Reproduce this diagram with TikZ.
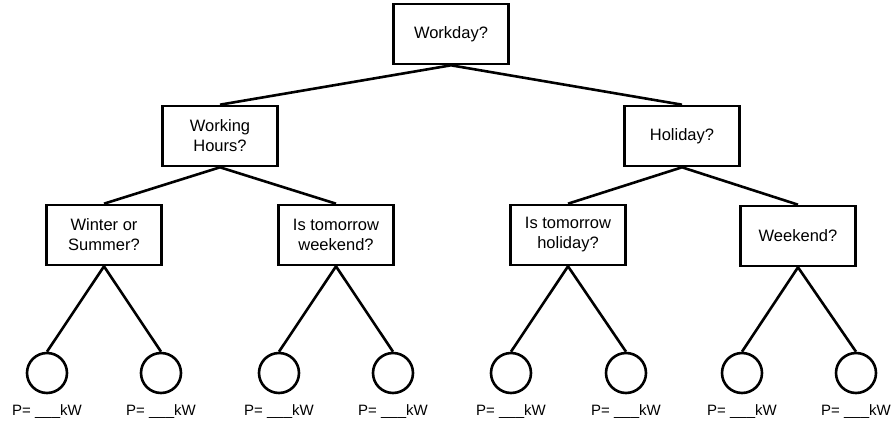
\documentclass[tikz,border=0pt]{standalone}
\usepackage{fontspec}
\setmainfont{Liberation Sans}
\usetikzlibrary{positioning}

\begin{document}
\begin{tikzpicture}[x=1pt, y=-1pt,
    question/.style={draw, line width=2.6pt, minimum width=115pt,
        minimum height=60pt, inner sep=0pt, align=center,
        font=\fontsize{16.5}{20}\selectfont},
    leaf/.style={draw, circle, line width=2.6pt, minimum size=40pt,
        inner sep=0pt},
    power/.style={inner sep=0pt, font=\fontsize{15}{18}\selectfont},
    branch/.style={line width=2.6pt}]
\useasboundingbox (0,0) rectangle (894,423);

\node[question] (workday) at (451,34) {Workday?};

\node[question] (hours) at (220,136) {Working\\Hours?};
\node[question] (holiday) at (682,136) {Holiday?};

\node[question] (season) at (104,235) {Winter or\\Summer?};
\node[question] (tmrwknd) at (336,235) {Is tomorrow\\weekend?};
\node[question] (tmrhol) at (568,235) {Is tomorrow\\holiday?};
\node[question] (weekend) at (798,236) {Weekend?};

\node[leaf] (p1) at (47,373) {};
\node[leaf] (p2) at (161,373) {};
\node[leaf] (p3) at (279,373) {};
\node[leaf] (p4) at (393,373) {};
\node[leaf] (p5) at (511,373) {};
\node[leaf] (p6) at (626,373) {};
\node[leaf] (p7) at (742,373) {};
\node[leaf] (p8) at (856,373) {};

\node[power, below=10pt of p1] (kw1) {P= \_\_\_kW};
\node[power, below=10pt of p2] (kw2) {P= \_\_\_kW};
\node[power, below=10pt of p3] (kw3) {P= \_\_\_kW};
\node[power, below=10pt of p4] (kw4) {P= \_\_\_kW};
\node[power, below=10pt of p5] (kw5) {P= \_\_\_kW};
\node[power, below=10pt of p6] (kw6) {P= \_\_\_kW};
\node[power, below=10pt of p7] (kw7) {P= \_\_\_kW};
\node[power, below=10pt of p8] (kw8) {P= \_\_\_kW};

\draw[branch]
    (workday.south) -- (hours.north)
    (workday.south) -- (holiday.north)
    (hours.south) -- (season.north)
    (hours.south) -- (tmrwknd.north)
    (holiday.south) -- (tmrhol.north)
    (holiday.south) -- (weekend.north)
    (season.south) -- (p1.north)
    (season.south) -- (p2.north)
    (tmrwknd.south) -- (p3.north)
    (tmrwknd.south) -- (p4.north)
    (tmrhol.south) -- (p5.north)
    (tmrhol.south) -- (p6.north)
    (weekend.south) -- (p7.north)
    (weekend.south) -- (p8.north)
    ;
\end{tikzpicture}
\end{document}
